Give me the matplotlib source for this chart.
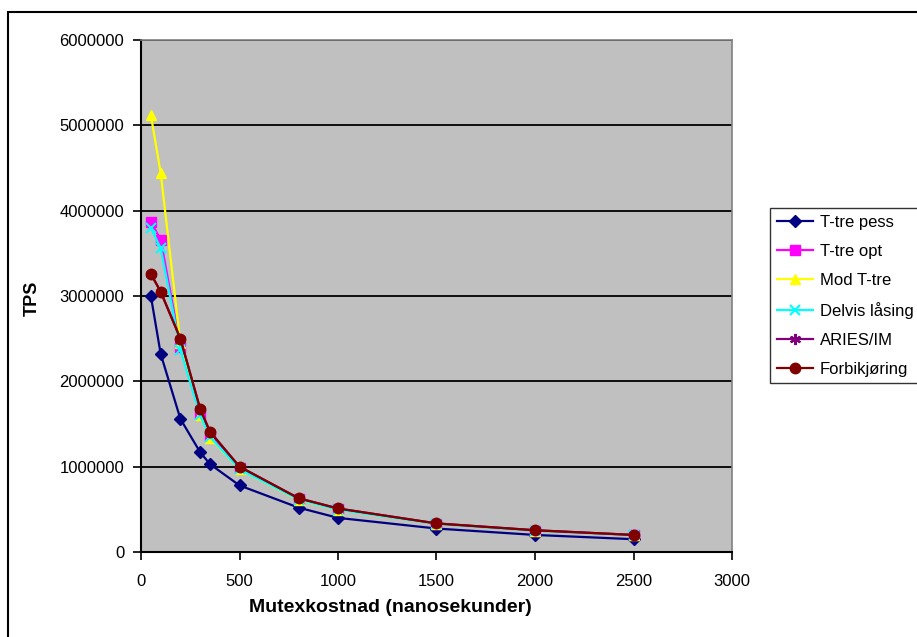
import matplotlib
matplotlib.use("Agg")
import matplotlib.pyplot as plt
from matplotlib.patches import Rectangle

plt.rcParams['font.family'] = ['Liberation Sans', 'DejaVu Sans']

x = [50, 100, 200, 300, 350, 500, 800, 1000, 1500, 2000, 2500]
t_tre_pess = [3000000, 2320000, 1560000, 1170000, 1030000, 780000, 520000, 400000, 275000, 200000, 150000]
t_tre_opt = [3870000, 3660000, 2400000, 1620000, 1360000, 980000, 620000, 500000, 330000, 250000, 200000]
mod_t_tre = [5120000, 4440000, 2450000, 1600000, 1340000, 970000, 610000, 495000, 330000, 250000, 200000]
delvis = [3800000, 3560000, 2370000, 1600000, 1350000, 970000, 615000, 495000, 330000, 250000, 200000]
aries = [3260000, 3050000, 2500000, 1680000, 1410000, 1000000, 630000, 510000, 335000, 255000, 200000]
forbi = [3260000, 3050000, 2500000, 1680000, 1410000, 1000000, 630000, 510000, 335000, 255000, 200000]

series = [
    ("T-tre pess", t_tre_pess, "#000080", "D", 6.5),
    ("T-tre opt", t_tre_opt, "#FF00FF", "s", 6.5),
    ("Mod T-tre", mod_t_tre, "#FFFF00", "^", 7.5),
    ("Delvis låsing", delvis, "#00FFFF", "x", 7),
    ("ARIES/IM", aries, "#800080", (6, 2, 0), 8),
    ("Forbikjøring", forbi, "#800000", "o", 7.5),
]

fig = plt.figure(figsize=(9.17, 6.37), dpi=100)
ax = fig.add_axes([141/917, 1-552/637, (732-141)/917, (552-40)/637])
ax.set_facecolor("#C0C0C0")

for name, vals, col, mk, ms in series:
    ax.plot(x, vals, color=col, marker=mk, markersize=ms, linewidth=1.6,
            markeredgewidth=1.5 if mk in ("x",) or isinstance(mk, tuple) else 1.0,
            markeredgecolor=col, markerfacecolor=col, label=name, clip_on=False, zorder=3)

ax.set_xlim(0, 3000)
ax.set_ylim(0, 6000000)
ax.set_xticks(range(0, 3001, 500))
ax.set_yticks(range(0, 6000001, 1000000))
ax.set_yticklabels([str(v) for v in range(0, 6000001, 1000000)])
ax.yaxis.grid(True, color="black", linewidth=1.3)
ax.set_axisbelow(True)
for s in ("top", "right"):
    ax.spines[s].set_color("#808080")
    ax.spines[s].set_linewidth(1.2)
for s in ("left", "bottom"):
    ax.spines[s].set_color("black")
    ax.spines[s].set_linewidth(1.5)
ax.tick_params(axis="both", direction="out", length=6, width=1.2, labelsize=12, colors="black")
ax.tick_params(axis="y", pad=6)
ax.tick_params(axis="x", pad=10)

fig.text(390/917, 1-607/637, "Mutexkostnad (nanosekunder)", fontsize=14, fontweight="bold",
         ha="center", va="center")
fig.text(32/917, 1-298/637, "TPS", fontsize=13, fontweight="bold", rotation=90,
         ha="center", va="center")

leg = fig.legend(loc="upper left", bbox_to_anchor=(770/917, 1-208/637), frameon=True,
                 fancybox=False, edgecolor="black", fontsize=12, handlelength=2.2,
                 borderpad=0.4, labelspacing=0.84, handletextpad=0.4, borderaxespad=0)
leg.get_frame().set_linewidth(1.0)

border = Rectangle((8/917, -0.05), 1.2, (1-12/637) + 0.05, transform=fig.transFigure,
                   fill=False, edgecolor="black", linewidth=1.5, clip_on=False)
fig.patches.append(border)

fig.savefig("out.png", dpi=100)
